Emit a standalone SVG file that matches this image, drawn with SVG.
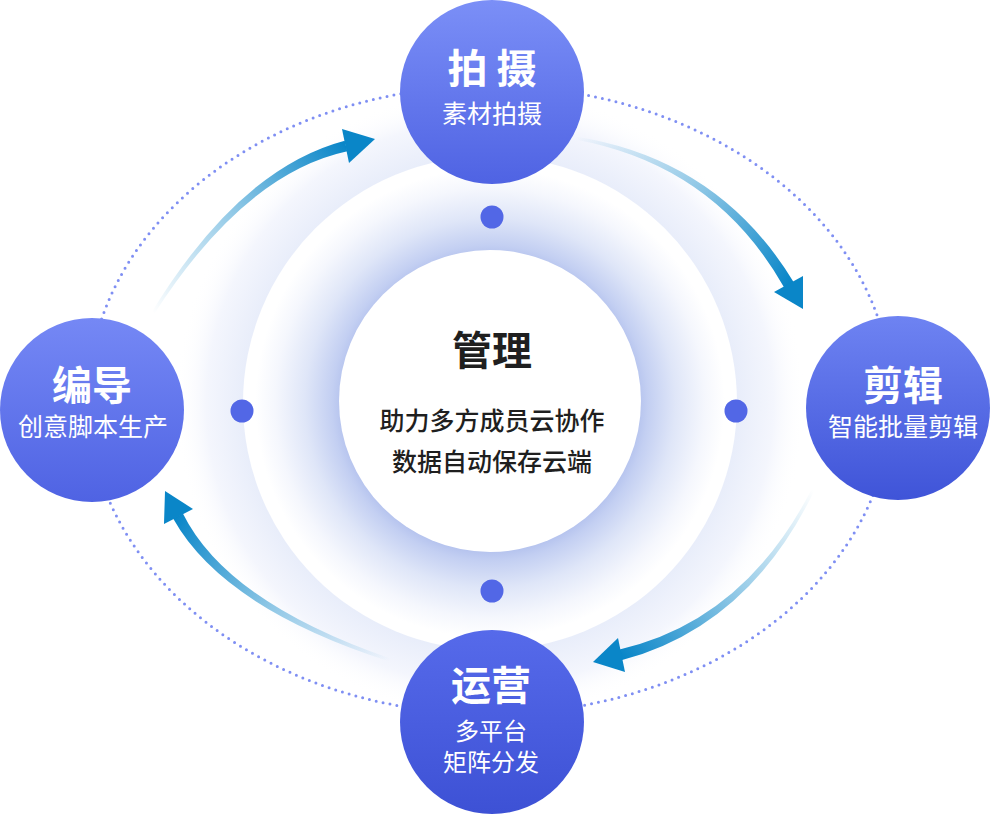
<svg xmlns="http://www.w3.org/2000/svg" width="990" height="815" viewBox="0 0 990 815">
<defs>
<style>
.t{font-family:"Noto Sans CJK SC","Noto Sans",sans-serif;fill:#ffffff;text-anchor:middle}
.h{font-size:40px;font-weight:700}
.s{font-size:25px;font-weight:400}
.s2{font-size:24px;font-weight:400}
.c{font-family:"Noto Sans CJK SC","Noto Sans",sans-serif;fill:#1f1f1f;text-anchor:middle}
.dot{fill:#5267e6}
.head{fill:#0a86c8}
</style>
<radialGradient id="haze" cx="490" cy="403" r="315" gradientUnits="userSpaceOnUse">
<stop offset="0" stop-color="#dfe6f8"/>
<stop offset="0.78" stop-color="#e8edfa"/>
<stop offset="0.9" stop-color="#f4f6fd"/>
<stop offset="1" stop-color="#ffffff" stop-opacity="0"/>
</radialGradient>
<radialGradient id="ring" cx="490" cy="403" r="247" gradientUnits="userSpaceOnUse">
<stop offset="0.58" stop-color="#aebdec"/>
<stop offset="0.64" stop-color="#c3cff2"/>
<stop offset="0.75" stop-color="#dfe6f8"/>
<stop offset="0.87" stop-color="#f5f7fd"/>
<stop offset="0.95" stop-color="#ffffff"/>
</radialGradient>
<linearGradient id="nTop" x1="0" y1="0" x2="0" y2="1">
<stop offset="0" stop-color="#7b8ff7"/>
<stop offset="1" stop-color="#4f63e3"/>
</linearGradient>
<linearGradient id="nLeft" x1="0" y1="0" x2="0" y2="1">
<stop offset="0" stop-color="#7588f5"/>
<stop offset="1" stop-color="#4f63e3"/>
</linearGradient>
<linearGradient id="nRight" x1="0" y1="0" x2="0" y2="1">
<stop offset="0" stop-color="#6e83f2"/>
<stop offset="1" stop-color="#3f54d8"/>
</linearGradient>
<linearGradient id="nBot" x1="0" y1="0" x2="0" y2="1">
<stop offset="0" stop-color="#566aea"/>
<stop offset="1" stop-color="#3d51d5"/>
</linearGradient>
<linearGradient id="gTL" x1="153" y1="313" x2="345" y2="146" gradientUnits="userSpaceOnUse">
<stop offset="0" stop-color="#0a86c8" stop-opacity="0"/>
<stop offset="0.5" stop-color="#0a86c8" stop-opacity="0.45"/>
<stop offset="1" stop-color="#0a86c8"/>
</linearGradient>
<linearGradient id="gTR" x1="575" y1="138" x2="788" y2="284" gradientUnits="userSpaceOnUse">
<stop offset="0" stop-color="#0a86c8" stop-opacity="0"/>
<stop offset="0.5" stop-color="#0a86c8" stop-opacity="0.45"/>
<stop offset="1" stop-color="#0a86c8"/>
</linearGradient>
<linearGradient id="gBL" x1="390" y1="660" x2="178" y2="516" gradientUnits="userSpaceOnUse">
<stop offset="0" stop-color="#0a86c8" stop-opacity="0"/>
<stop offset="0.5" stop-color="#0a86c8" stop-opacity="0.45"/>
<stop offset="1" stop-color="#0a86c8"/>
</linearGradient>
<linearGradient id="gBR" x1="813" y1="490" x2="621" y2="655" gradientUnits="userSpaceOnUse">
<stop offset="0" stop-color="#0a86c8" stop-opacity="0"/>
<stop offset="0.5" stop-color="#0a86c8" stop-opacity="0.45"/>
<stop offset="1" stop-color="#0a86c8"/>
</linearGradient>
</defs>
<rect width="990" height="815" fill="#ffffff"/>
<g id="background">
<circle cx="490" cy="403" r="315" fill="url(#haze)"/>
<circle cx="490" cy="403" r="247" fill="url(#ring)"/>
<ellipse cx="490" cy="400" rx="402" ry="314" fill="none" stroke="#7f8ff3" stroke-width="3" stroke-linecap="round" stroke-dasharray="0 7"/>
</g>
<g id="connectors">
<path fill="url(#gTL)" d="M154.3,313.8 Q244.3,173.6 347.3,151.3 L344.7,140.7 Q239.7,168.4 151.7,312.2 Z"/>
<polygon class="head" points="342,129 375,139 349,163"/>
<path fill="url(#gTR)" d="M574.75,139.5 Q715,164.9 784.3,287.8 L793.7,282.2 Q719,159.1 575.25,136.5 Z"/>
<polygon class="head" points="774,292 803,309 803,276"/>
<path fill="url(#gBL)" d="M390.47,658.6 Q226.97,602.1 182.87,513.4 L173.13,518.6 Q223.03,607.9 389.53,661.4 Z"/>
<polygon class="head" points="165,491 193,509 164,524"/>
<path fill="url(#gBR)" d="M811.66,489.33 Q743.73,621.34 618.69,649.66 L621.31,660.34 Q748.28,626.66 814.34,490.67 Z"/>
<polygon class="head" points="618,638 593,662 625,672"/>
</g>
<g id="dots">
<circle class="dot" cx="492" cy="217" r="11.5"/>
<circle class="dot" cx="242" cy="411" r="11.5"/>
<circle class="dot" cx="736" cy="411" r="11.5"/>
<circle class="dot" cx="492" cy="591" r="11.5"/>
</g>
<g id="center">
<circle cx="490" cy="401" r="151" fill="#ffffff"/>
<text class="c" x="492" y="365" font-size="40" font-weight="700">管理</text>
<text class="c" x="492" y="430" font-size="25" font-weight="500">助力多方成员云协作</text>
<text class="c" x="492" y="471" font-size="25" font-weight="500">数据自动保存云端</text>
</g>
<g id="node-top">
<circle cx="492" cy="92" r="92" fill="url(#nTop)"/>
<text class="t h" x="492" y="83">拍 摄</text>
<text class="t s" x="492" y="123">素材拍摄</text>
</g>
<g id="node-left">
<circle cx="92" cy="410" r="92" fill="url(#nLeft)"/>
<text class="t h" x="92" y="400">编导</text>
<text class="t s" x="93" y="436">创意脚本生产</text>
</g>
<g id="node-right">
<circle cx="898" cy="408" r="92" fill="url(#nRight)"/>
<text class="t h" x="903" y="400">剪辑</text>
<text class="t s" x="903" y="436">智能批量剪辑</text>
</g>
<g id="node-bottom">
<circle cx="492" cy="722" r="92" fill="url(#nBot)"/>
<text class="t h" x="491" y="700">运营</text>
<text class="t s2" x="491" y="740">多平台</text>
<text class="t s2" x="491" y="771">矩阵分发</text>
</g>
</svg>
